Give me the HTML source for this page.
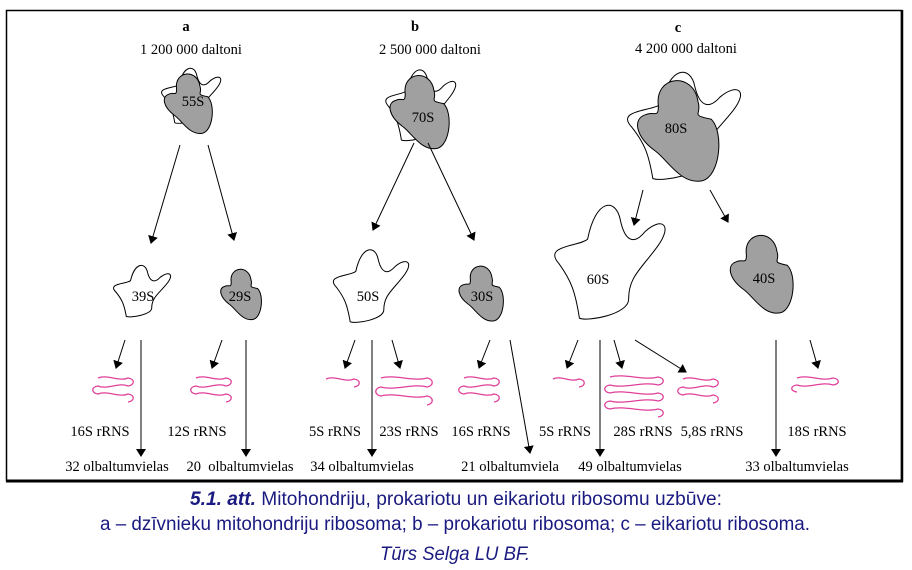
<!DOCTYPE html>
<html><head><meta charset="utf-8"><style>
html,body{margin:0;padding:0;background:#fff;width:912px;height:570px;overflow:hidden}
svg{display:block}
.t{font-family:"Liberation Serif",serif;font-size:14.5px;fill:#000}
.cap{font-family:"Liberation Sans",sans-serif;font-size:19px;fill:#1a1a80}
</style></head><body>
<svg id="s" width="912" height="570" viewBox="0 0 912 570" xmlns="http://www.w3.org/2000/svg">
<defs><marker id="ah" markerWidth="8" markerHeight="10" refX="7" refY="5" orient="auto" markerUnits="userSpaceOnUse"><path d="M0,0 L8,5 L0,10 z" fill="#000"/></marker></defs>
<rect x="6.5" y="10.5" width="895" height="470" fill="none" stroke="#000" stroke-width="1.5"/>
<line x1="6" y1="481" x2="903" y2="481" stroke="#000" stroke-width="3"/>
<line x1="902" y1="10" x2="902" y2="482" stroke="#000" stroke-width="2.5"/>
<g id="shapes"></g>
<g stroke="#000" stroke-width="1" fill="none" marker-end="url(#ah)">
<line x1="180" y1="145" x2="151" y2="243"/><line x1="208" y1="145" x2="234" y2="240"/>
<line x1="414" y1="143" x2="373" y2="230"/><line x1="428" y1="143" x2="474" y2="240"/>
<line x1="643" y1="190" x2="634" y2="225"/><line x1="710" y1="190" x2="728" y2="222"/>
<line x1="141" y1="340" x2="141" y2="456"/><line x1="246" y1="340" x2="246" y2="456"/>
<line x1="372" y1="340" x2="372" y2="456"/><line x1="510" y1="340" x2="530" y2="453"/>
<line x1="600" y1="340" x2="600" y2="456"/><line x1="776" y1="340" x2="776" y2="456"/>
<line x1="125" y1="340" x2="116" y2="368"/><line x1="222" y1="340" x2="212" y2="368"/>
<line x1="355" y1="340" x2="345" y2="368"/><line x1="392" y1="340" x2="400" y2="368"/>
<line x1="490" y1="340" x2="479" y2="368"/><line x1="578" y1="340" x2="567" y2="368"/>
<line x1="614" y1="340" x2="622" y2="368"/><line x1="635" y1="340" x2="686" y2="372"/>
<line x1="810" y1="340" x2="818" y2="368"/>
</g>
<g id="sq" stroke="#e0409a" stroke-width="1.3" fill="none"></g>
<g class="t" text-anchor="middle">
<text x="186" y="31" font-weight="bold">a</text>
<text x="191" y="54">1 200 000 daltoni</text>
<text x="415" y="31" font-weight="bold">b</text>
<text x="430" y="54">2 500 000 daltoni</text>
<text x="678" y="32" font-weight="bold">c</text>
<text x="686" y="53">4 200 000 daltoni</text>
<text x="193" y="106">55S</text><text x="423" y="122">70S</text><text x="676" y="133">80S</text>
<text x="143" y="301">39S</text><text x="240" y="301">29S</text><text x="368" y="301">50S</text>
<text x="482" y="301">30S</text><text x="598" y="284">60S</text><text x="764" y="283">40S</text>
<text x="100" y="436">16S rRNS</text><text x="197" y="436">12S rRNS</text>
<text x="335" y="436">5S rRNS</text><text x="409" y="436">23S rRNS</text>
<text x="481" y="436">16S rRNS</text><text x="565" y="436">5S rRNS</text>
<text x="643" y="436">28S rRNS</text><text x="712" y="436">5,8S rRNS</text>
<text x="817" y="436">18S rRNS</text>
<text x="117" y="471">32 olbaltumvielas</text><text x="240" y="471">20&#160; olbaltumvielas</text>
<text x="362" y="471">34 olbaltumvielas</text><text x="510" y="471">21 olbaltumviela</text>
<text x="630" y="471">49 olbaltumvielas</text><text x="797" y="471">33 olbaltumvielas</text>
</g>
<g class="cap">
<text x="190" y="505" textLength="532" lengthAdjust="spacingAndGlyphs"><tspan font-weight="bold" font-style="italic">5.1. att.</tspan> Mitohondriju, prokariotu un eikariotu ribosomu uzbūve:</text>
<text x="100" y="530" textLength="710" lengthAdjust="spacingAndGlyphs">a – dzīvnieku mitohondriju ribosoma; b – prokariotu ribosoma; c – eikariotu ribosoma.</text>
<text x="380" y="560" font-style="italic" textLength="150" lengthAdjust="spacingAndGlyphs">Tūrs Selga LU BF.</text>
</g>
</svg>
<script>
var NS="http://www.w3.org/2000/svg";
function star(cx,cy,sx,sy){
 function P(a,b){return (cx+a*sx)+","+(cy+b*sy);}
 return "M"+P(-22,-5)+" C"+P(-30,-15)+" "+P(-12,-14)+" "+P(-8,-18)+
 " C"+P(-4,-40)+" "+P(6,-40)+" "+P(8,-28)+
 " C"+P(10,-18)+" "+P(14,-14)+" "+P(20,-22)+
 " C"+P(28,-30)+" "+P(34,-26)+" "+P(26,-14)+
 " C"+P(18,-2)+" "+P(12,2)+" "+P(12,14)+
 " C"+P(12,22)+" "+P(-8,26)+" "+P(-12,24)+
 " C"+P(-14,10)+" "+P(-16,4)+" "+P(-22,-5)+" Z";}
function blob(cx,cy,s){
 return "M"+(cx-8*s)+","+(cy-10*s)+" C"+(cx-10*s)+","+(cy-24*s)+" "+(cx+8*s)+","+(cy-26*s)+" "+(cx+10*s)+","+(cy-12*s)+
 " C"+(cx+12*s)+","+(cy-6*s)+" "+(cx+6*s)+","+(cy-6*s)+" "+(cx+16*s)+","+(cy-4*s)+
 " C"+(cx+22*s)+","+(cy+2*s)+" "+(cx+20*s)+","+(cy+22*s)+" "+(cx+12*s)+","+(cy+24*s)+
 " C"+(cx+2*s)+","+(cy+26*s)+" "+(cx-4*s)+","+(cy+14*s)+" "+(cx-10*s)+","+(cy+10*s)+
 " C"+(cx-18*s)+","+(cy+4*s)+" "+(cx-20*s)+","+(cy-4*s)+" "+(cx-14*s)+","+(cy-6*s)+
 " C"+(cx-10*s)+","+(cy-8*s)+" "+(cx-8*s)+","+(cy-4*s)+" "+(cx-8*s)+","+(cy-10*s)+" Z";}
var g=document.getElementById("shapes");
function add(d,fill){var p=document.createElementNS(NS,"path");p.setAttribute("d",d);p.setAttribute("fill",fill);p.setAttribute("stroke","#000");p.setAttribute("stroke-width","1");g.appendChild(p);}
add(star(188,101,1.1,0.91),"#fff");add(blob(187,102,1.3),"#a0a0a0");
add(star(417,112,1.3,1.17),"#fff");add(blob(418,110,1.6),"#a0a0a0");
add(star(678,136,2.1,1.77),"#fff");add(blob(676,128,2.2),"#a0a0a0");
add(star(139,296,1.06,0.85),"#fff");add(blob(240,293,1.1),"#a0a0a0");
add(star(367,293,1.4,1.2),"#fff");add(blob(480,292,1.2),"#a0a0a0");
add(star(604,273,2.05,1.88),"#fff");add(blob(760,272,1.7),"#a0a0a0");
var q=document.getElementById("sq");
function sq(x,y,w,n,h){var d="M"+(x-w/2)+","+y;for(var i=0;i<n;i++){var yy=y+i*h;var dir=i%2==0?1:-1;var xs=dir>0?x-w/2:x+w/2,xe=dir>0?x+w/2:x-w/2;
 d+=" C"+(xs+dir*w*0.3)+","+(yy-4)+" "+(xe-dir*w*0.3)+","+(yy+4)+" "+xe+","+yy+" C"+(xe+dir*7)+","+(yy+1)+" "+(xe+dir*7)+","+(yy+h-1)+" "+xe+","+(yy+h);}
 var p=document.createElementNS(NS,"path");p.setAttribute("d",d);q.appendChild(p);}
sq(113,378,30,3,8);sq(211,378,30,3,8);sq(340,379,28,1,8);sq(404,378,46,3,9);sq(479,378,30,3,8);
sq(566,379,26,1,8);sq(634,377,48,5,8);sq(698,379,30,3,8);sq(815,378,36,2,7);
</script>
</body></html>
